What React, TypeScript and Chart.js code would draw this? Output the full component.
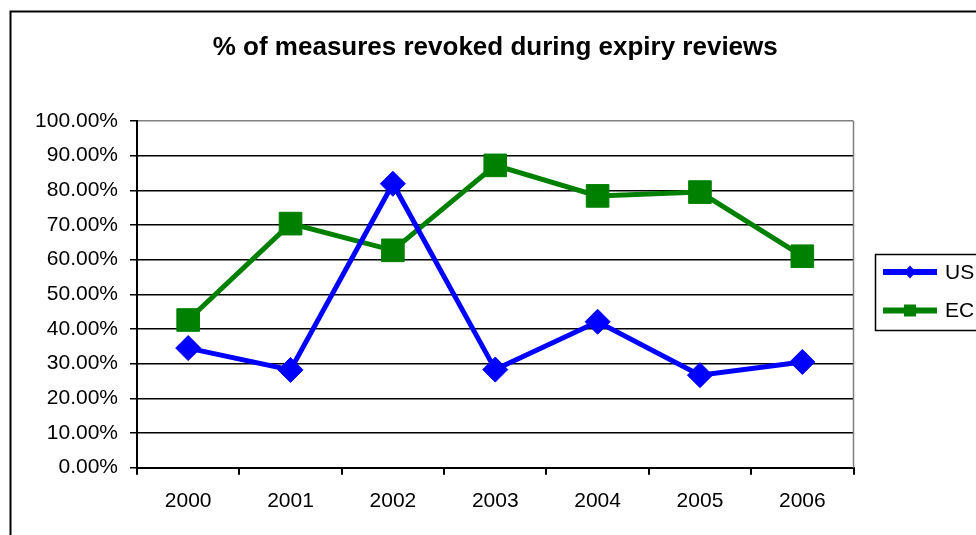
import React, { useEffect, useRef } from "react";
import { Chart, registerables } from "chart.js";

Chart.register(...registerables);

const TITLE = "% of measures revoked during expiry reviews";
const YEARS = ["2000", "2001", "2002", "2003", "2004", "2005", "2006"];
const US_VALUES = [0.345, 0.282, 0.819, 0.283, 0.421, 0.267, 0.305];
const EC_VALUES = [0.426, 0.704, 0.627, 0.872, 0.784, 0.795, 0.61];
const SERIES_LABELS = ["US", "EC"];
const SERIES_COLORS = ["#0000FF", "#008000"];

const FONT = "'Liberation Sans', Arial, sans-serif";

const framePlugin = {
  id: "frame",
  beforeDraw(chart: any) {
    const ctx = chart.ctx;
    ctx.save();
    ctx.fillStyle = "#FFFFFF";
    ctx.fillRect(0, 0, chart.width, chart.height);
    ctx.strokeStyle = "#000000";
    ctx.lineWidth = 2;
    ctx.strokeRect(10.5, 11.5, 1200, 1200);
    ctx.restore();
  },
  afterDatasetsDraw(chart: any) {
    const { ctx, chartArea } = chart;
    ctx.save();
    ctx.strokeStyle = "#808080";
    ctx.lineWidth = 1.5;
    ctx.beginPath();
    ctx.moveTo(chartArea.right, chartArea.top);
    ctx.lineTo(chartArea.right, chartArea.bottom);
    ctx.stroke();
    ctx.restore();
  },
  afterDraw(chart: any) {
    const ctx = chart.ctx;
    ctx.save();
    ctx.strokeStyle = "#000000";
    ctx.lineWidth = 1.5;
    ctx.strokeRect(875.5, 254.5, 200, 76);
    const rows = [272, 310.5];
    chart.data.datasets.forEach((ds: any, i: number) => {
      const y = rows[i];
      ctx.strokeStyle = ds.borderColor;
      ctx.fillStyle = ds.borderColor;
      ctx.lineWidth = 6;
      ctx.beginPath();
      ctx.moveTo(883, y);
      ctx.lineTo(937, y);
      ctx.stroke();
      const cx = 910;
      if (ds.pointStyle === "rectRot") {
        ctx.beginPath();
        ctx.moveTo(cx, y - 6.5);
        ctx.lineTo(cx + 6, y);
        ctx.lineTo(cx, y + 6.5);
        ctx.lineTo(cx - 6, y);
        ctx.closePath();
        ctx.fill();
      } else {
        ctx.fillRect(cx - 6, y - 6, 12, 12);
      }
      ctx.fillStyle = "#000000";
      ctx.font = `21px ${FONT}`;
      ctx.textBaseline = "middle";
      ctx.textAlign = "left";
      ctx.fillText(ds.label, 945, y + 1);
    });
    ctx.restore();
  },
};

export default function App() {
  const ref = useRef<HTMLCanvasElement | null>(null);

  useEffect(() => {
    if (!ref.current) return;
    const chart = new Chart(ref.current, {
      type: "line",
      data: {
        labels: YEARS,
        datasets: [
          {
            label: SERIES_LABELS[0],
            data: US_VALUES,
            borderColor: SERIES_COLORS[0],
            backgroundColor: SERIES_COLORS[0],
            borderWidth: 5,
            tension: 0,
            pointStyle: "rectRot",
            pointRadius: 12.5,
            pointBorderWidth: 1,
            pointBackgroundColor: SERIES_COLORS[0],
            pointBorderColor: SERIES_COLORS[0],
          },
          {
            label: SERIES_LABELS[1],
            data: EC_VALUES,
            borderColor: SERIES_COLORS[1],
            backgroundColor: SERIES_COLORS[1],
            borderWidth: 5,
            tension: 0,
            pointStyle: "rect",
            pointRadius: 16,
            pointBorderWidth: 1,
            pointBackgroundColor: SERIES_COLORS[1],
            pointBorderColor: SERIES_COLORS[1],
          },
        ],
      },
      options: {
        animation: false,
        responsive: false,
        events: [],
        layout: { padding: { left: 0, right: 122.5, top: 0, bottom: 0 } },
        plugins: {
          legend: { display: false },
          tooltip: { enabled: false },
          title: {
            display: true,
            text: TITLE,
            fullSize: false,
            color: "#000000",
            font: { family: FONT, size: 26, weight: "bold", lineHeight: 1.2 },
            padding: { top: 32, bottom: 57.8 },
          },
        },
        scales: {
          x: {
            offset: true,
            grid: {
              offset: true,
              drawOnChartArea: false,
              drawTicks: true,
              tickLength: 7,
              color: "#000000",
              lineWidth: 2,
            },
            border: { color: "#000000", width: 2 },
            ticks: {
              color: "#000000",
              font: { family: FONT, size: 21 },
              padding: 14,
              maxRotation: 0,
              autoSkip: false,
            },
            afterFit(scale: any) {
              scale.height = 67.3;
            },
          },
          y: {
            min: 0,
            max: 1,
            grid: {
              color: (c: any) => (c.tick && c.tick.value === 1 ? "#808080" : "#000000"),
              tickColor: "#000000",
              lineWidth: 1.5,
              tickLength: 7,
            },
            border: { color: "#000000", width: 2 },
            ticks: {
              stepSize: 0.1,
              color: "#000000",
              font: { family: FONT, size: 21 },
              padding: 12,
              callback: (v: any) => (Number(v) * 100).toFixed(2) + "%",
            },
            afterFit(scale: any) {
              scale.width = 137;
            },
          },
        },
      },
      plugins: [framePlugin],
    });
    return () => chart.destroy();
  }, []);

  return (
    <div style={{ position: "absolute", left: 0, top: 0, width: 976, height: 535 }}>
      <canvas ref={ref} width={976} height={535} style={{ display: "block" }} />
    </div>
  );
}
